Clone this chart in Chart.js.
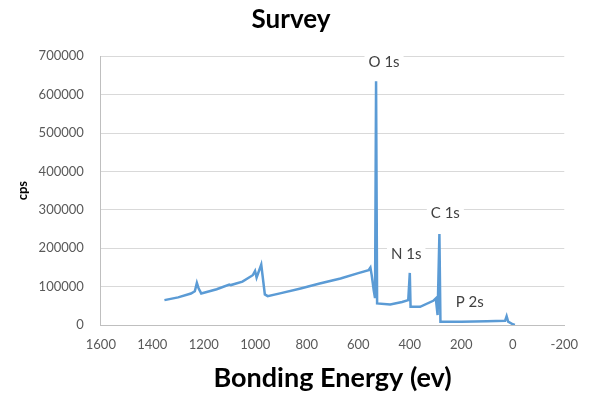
<!DOCTYPE html>
<html>
<head>
<meta charset="utf-8">
<script src="https://cdn.jsdelivr.net/npm/chart.js@4/dist/chart.umd.min.js"></script>
<style>
  html, body { margin: 0; padding: 0; background: #ffffff; }
  #wrap { width: 590px; height: 394px; position: relative; }
</style>
</head>
<body>
<div id="wrap"><canvas id="c" width="590" height="394"></canvas></div>
<script>
// XPS survey spectrum: binding energy (eV) vs counts per second
const bindingEnergy = [1353, 1300, 1250, 1235, 1227, 1220, 1210, 1150, 1101, 1095, 1050, 1010, 1001, 995, 977, 963, 952, 900, 824, 750, 669, 600, 560, 553, 548, 540, 535, 531, 527, 476, 430, 406, 400, 397, 360, 309, 299, 292, 285, 281, 200, 100, 30, 24, 18, 0, -8];
const countsPerSecond = [64800, 72000, 82000, 88000, 109700, 95000, 82200, 93000, 105500, 104000, 113000, 129600, 140800, 123700, 157300, 79600, 75200, 83000, 95100, 108000, 121000, 135000, 142600, 149600, 130000, 90000, 70000, 635000, 56200, 53700, 60000, 64800, 135600, 47500, 47400, 63000, 69200, 25900, 237000, 8600, 8500, 9500, 11000, 23000, 8600, 2000, 0];

// Peak labels and where they sit (energy, cps)
const peakNames = ['O 1s', 'N 1s', 'C 1s', 'P 2s'];
const peakLabelEnergy = [500, 414, 262, 167];
const peakLabelCps = [685000, 185000, 290000, 59000];

const xTicks = [1600, 1400, 1200, 1000, 800, 600, 400, 200, 0, -200];
const yTicks = [0, 100000, 200000, 300000, 400000, 500000, 600000, 700000];

const FONT = 'Lato, "Open Sans", sans-serif';

const points = bindingEnergy.map((e, i) => ({ x: e, y: countsPerSecond[i] }));

const peakLabelPlugin = {
  id: 'peakLabels',
  afterDatasetsDraw(chart) {
    const { ctx, scales } = chart;
    ctx.save();
    ctx.font = '15px ' + FONT;
    ctx.textAlign = 'center';
    ctx.textBaseline = 'middle';
    peakNames.forEach((name, i) => {
      const px = scales.x.getPixelForValue(peakLabelEnergy[i]);
      const py = scales.y.getPixelForValue(peakLabelCps[i]);
      const w = ctx.measureText(name).width + 8;
      ctx.fillStyle = '#ffffff';
      ctx.fillRect(px - w / 2, py - 9, w, 18);
      ctx.fillStyle = '#404040';
      ctx.fillText(name, px, py);
    });
    ctx.restore();
  }
};

new Chart(document.getElementById('c'), {
  type: 'line',
  data: {
    datasets: [{
      label: 'Survey',
      data: points,
      borderColor: '#5b9bd5',
      borderWidth: 2.5,
      pointRadius: 0,
      tension: 0,
      fill: false
    }]
  },
  options: {
    responsive: false,
    animation: false,
    layout: { padding: { left: 12, right: 20, top: 0, bottom: 0 } },
    plugins: {
      legend: { display: false },
      tooltip: { enabled: false },
      title: {
        display: true,
        text: 'Survey',
        color: '#000000',
        font: { family: FONT, size: 26, weight: 'bold' },
        padding: { top: 4, bottom: 21 }
      }
    },
    scales: {
      x: {
        type: 'linear',
        reverse: true,
        min: -200,
        max: 1600,
        afterBuildTicks(axis) { axis.ticks = xTicks.map(v => ({ value: v })); },
        grid: { display: false, drawTicks: false },
        border: { display: true, color: '#bfbfbf', width: 1 },
        ticks: { color: '#595959', font: { family: FONT, size: 13 }, padding: 12, maxRotation: 0, callback: v => String(v) },
        title: {
          display: true,
          text: 'Bonding Energy (ev)',
          color: '#000000',
          font: { family: FONT, size: 27, weight: 'bold' },
          padding: { top: -3, bottom: 0 }
        }
      },
      y: {
        min: 0,
        max: 700000,
        afterBuildTicks(axis) { axis.ticks = yTicks.map(v => ({ value: v })); },
        grid: { color: '#d9d9d9', lineWidth: 1, drawTicks: false },
        border: { display: true, color: '#bfbfbf', width: 1 },
        ticks: { color: '#595959', font: { family: FONT, size: 13 }, padding: 17, callback: v => String(v) },
        title: {
          display: true,
          text: 'cps',
          color: '#000000',
          font: { family: FONT, size: 13, weight: 'bold' },
          padding: { top: 3, bottom: -9 }
        }
      }
    }
  },
  plugins: [peakLabelPlugin]
});
</script>
</body>
</html>
